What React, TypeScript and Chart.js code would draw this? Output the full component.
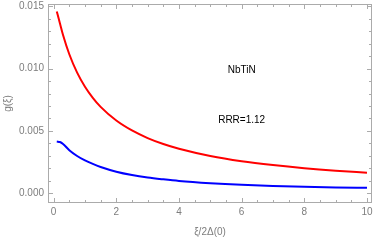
import React, { useEffect, useRef } from "react";
import { Chart, registerables } from "chart.js";

Chart.register(...registerables);

// ---- data ----
const xValues = [0.1, 0.2, 0.3, 0.5, 0.75, 1, 1.25, 1.5, 2, 2.5, 3, 3.5, 4, 5, 6, 7, 8, 9, 10];
const redValues = [0.0146, 0.01366, 0.01271, 0.01116, 0.00968, 0.00855, 0.00766, 0.00693, 0.00583, 0.00503, 0.00442, 0.00394, 0.00356, 0.00298, 0.00256, 0.00225, 0.002, 0.0018, 0.00164];
const blueValues = [0.00414, 0.0041, 0.00395, 0.00345, 0.00298, 0.00262, 0.00234, 0.0021, 0.00172, 0.00145, 0.00125, 0.0011, 0.00097, 0.00079, 0.00066, 0.00057, 0.0005, 0.00045, 0.00042];
const yTickValues = [0, 0.005, 0.01, 0.015];
const xTickValues = [0, 2, 4, 6, 8, 10];
const yMinorStep = 0.001;
const xMinorStep = 0.5;
const xTitle = "ξ/2Δ(0)";
const yTitle = "g(ξ)";
const annotationTexts = ["NbTiN", "RRR=1.12"];
const annotationX = [6.0, 6.0];
const annotationY = [0.0099, 0.00583];

const FONT = "'Liberation Sans', Arial, sans-serif";
const GRAY_TEXT = "#7d7d7d";
const GRAY_FRAME = "#ababab";

const framePlugin = {
  id: "mmaFrame",
  beforeDatasetsDraw(chart: any) {
    const { ctx, chartArea } = chart;
    const xs = chart.scales.x;
    const ys = chart.scales.y;
    const l = Math.round(chartArea.left) + 0.5;
    const r = Math.round(chartArea.right) - 0.5;
    const t = Math.round(chartArea.top) + 0.5;
    const b = Math.round(chartArea.bottom) - 0.5;
    ctx.save();
    ctx.strokeStyle = GRAY_FRAME;
    ctx.lineWidth = 1;
    ctx.strokeRect(l, t, r - l, b - t);
    ctx.beginPath();
    // x ticks (bottom and top)
    for (let v = 0; v <= 10 + 1e-9; v += xMinorStep) {
      const major = xTickValues.some((m) => Math.abs(m - v) < 1e-9);
      const len = major ? 4.5 : 2.5;
      const px = Math.round(xs.getPixelForValue(v)) + 0.5;
      ctx.moveTo(px, b);
      ctx.lineTo(px, b - len);
      ctx.moveTo(px, t);
      ctx.lineTo(px, t + len);
    }
    // y ticks (left and right)
    for (let i = 0; i <= 15; i++) {
      const v = i * yMinorStep;
      const major = yTickValues.some((m) => Math.abs(m - v) < 1e-9);
      const len = major ? 4.5 : 2.5;
      const py = Math.round(ys.getPixelForValue(v)) + 0.5;
      ctx.moveTo(l, py);
      ctx.lineTo(l + len, py);
      ctx.moveTo(r, py);
      ctx.lineTo(r - len, py);
    }
    ctx.stroke();
    ctx.restore();
  },
  afterDatasetsDraw(chart: any) {
    const { ctx } = chart;
    const xs = chart.scales.x;
    const ys = chart.scales.y;
    ctx.save();
    ctx.fillStyle = "#000";
    ctx.font = `10px ${FONT}`;
    ctx.textAlign = "center";
    ctx.textBaseline = "middle";
    annotationTexts.forEach((txt, i) => {
      ctx.fillText(txt, xs.getPixelForValue(annotationX[i]), ys.getPixelForValue(annotationY[i]));
    });
    ctx.restore();
  },
};

export default function App() {
  const canvasRef = useRef<HTMLCanvasElement | null>(null);

  useEffect(() => {
    if (!canvasRef.current) return;
    const chart = new Chart(canvasRef.current, {
      type: "line",
      data: {
        datasets: [
          {
            data: xValues.map((x, i) => ({ x, y: redValues[i] })),
            borderColor: "#ff0000",
            borderWidth: 2,
            pointRadius: 0,
            cubicInterpolationMode: "monotone",
            fill: false,
          },
          {
            data: xValues.map((x, i) => ({ x, y: blueValues[i] })),
            borderColor: "#0000ff",
            borderWidth: 2,
            pointRadius: 0,
            cubicInterpolationMode: "monotone",
            fill: false,
          },
        ],
      },
      options: {
        responsive: false,
        animation: false,
        layout: { padding: { left: 0, top: 4, right: 2, bottom: 0 } },
        plugins: { legend: { display: false }, tooltip: { enabled: false } },
        scales: {
          x: {
            type: "linear",
            min: -0.18,
            max: 10.16,
            grid: { display: false, drawTicks: false },
            border: { display: false },
            ticks: {
              color: GRAY_TEXT,
              font: { size: 10, family: FONT },
              padding: 3,
              maxRotation: 0,
              autoSkip: false,
              callback: (v: any) => String(v),
            },
            afterBuildTicks: (scale: any) => {
              scale.ticks = xTickValues.map((v) => ({ value: v }));
            },
            afterFit: (scale: any) => {
              scale.height = 38;
              scale.paddingLeft = 0;
              scale.paddingRight = 0;
            },
            title: {
              display: true,
              text: xTitle,
              color: GRAY_TEXT,
              font: { size: 10, family: FONT },
              padding: { top: 0, bottom: 3 },
            },
          },
          y: {
            type: "linear",
            min: -0.0008,
            max: 0.0152,
            grid: { display: false, drawTicks: false },
            border: { display: false },
            ticks: {
              color: GRAY_TEXT,
              font: { size: 10, family: FONT },
              padding: 4,
              autoSkip: false,
              callback: (v: any) => Number(v).toFixed(3),
            },
            afterBuildTicks: (scale: any) => {
              scale.ticks = yTickValues.map((v) => ({ value: v }));
            },
            afterFit: (scale: any) => {
              scale.width = 48;
              scale.paddingTop = 0;
              scale.paddingBottom = 0;
            },
            title: {
              display: true,
              text: yTitle,
              color: GRAY_TEXT,
              font: { size: 10, family: FONT },
              padding: { top: 2, bottom: 0 },
            },
          },
        },
      },
      plugins: [framePlugin],
    } as any);
    return () => chart.destroy();
  }, []);

  return (
    <div style={{ position: "absolute", left: 0, top: 0, width: 374, height: 241, background: "#fff" }}>
      <canvas ref={canvasRef} width={374} height={241} style={{ width: 374, height: 241, display: "block" }} />
    </div>
  );
}
